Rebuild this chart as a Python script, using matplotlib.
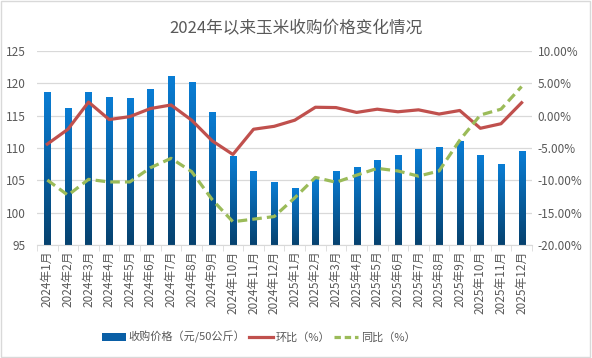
import matplotlib
matplotlib.use('Agg')
import numpy as np
import matplotlib.pyplot as plt
from matplotlib.colors import LinearSegmentedColormap
from matplotlib.lines import Line2D
from matplotlib.patches import Rectangle

plt.rcParams['font.family'] = ['Noto Sans CJK SC', 'DejaVu Sans']

months = ['2024年%d月' % m for m in range(1, 13)] + ['2025年%d月' % m for m in range(1, 13)]
price = [118.7, 116.2, 118.7, 117.9, 117.7, 119.1, 121.1, 120.2, 115.6, 108.8, 106.4, 104.7,
         103.8, 105.2, 106.4, 107.1, 108.1, 108.9, 109.8, 110.2, 111.1, 108.9, 107.5, 109.5]
mom = [-4.4, -2.1, 2.1, -0.6, -0.15, 1.1, 1.65, -0.7, -3.9, -6.0, -2.1, -1.65,
       -0.7, 1.3, 1.25, 0.5, 1.0, 0.6, 0.9, 0.25, 0.8, -1.95, -1.25, 2.0]
yoy = [-9.95, -12.3, -9.85, -10.25, -10.25, -8.05, -6.6, -8.65, -13.0, -16.4, -16.0, -15.6,
       -12.7, -9.55, -10.3, -9.2, -8.15, -8.55, -9.35, -8.55, -3.8, 0.1, 1.0, 4.5]

grey = '#595959'
fig = plt.figure(figsize=(5.92, 3.58), dpi=100)
fig.patches.append(Rectangle((0.002, 0.003), 0.995, 0.993, transform=fig.transFigure,
                             fill=False, edgecolor='#D9D9D9', linewidth=1))
ax = fig.add_axes([0.0625, 0.3156, 0.836, 0.542])
ax2 = ax.twinx()

x = np.arange(len(months))
w = 0.3
cmap = LinearSegmentedColormap.from_list('bar', ['#06426F', '#0A7DD4'])
grad = np.linspace(0, 1, 100).reshape(-1, 1)
bars = ax.bar(x, np.array(price) - 95, w, bottom=95, color='#0070C0', zorder=2)
for b in bars:
    im = ax.imshow(grad, extent=[b.get_x(), b.get_x() + w, 95, 95 + b.get_height()],
                   origin='lower', aspect='auto', cmap=cmap, zorder=2.5)
    im.set_clip_path(b)

ax.set_xlim(-0.5, len(months) - 0.5)
ax.set_ylim(95, 125)
ax.set_yticks(range(95, 126, 5))
ax.grid(axis='y', color='#D9D9D9', linewidth=0.9, zorder=0)
ax.set_axisbelow(True)
for s in ['top', 'left', 'right']:
    ax.spines[s].set_visible(False)
    ax2.spines[s].set_visible(False)
ax2.spines['bottom'].set_visible(False)
ax.spines['bottom'].set_color('#D9D9D9')
ax.set_xticks(x)
ax.set_xticklabels(months, rotation=90, fontsize=8.5, color=grey)
ax.tick_params(axis='x', length=0, pad=4)
ax.set_xticks(np.arange(-0.5, len(months), 1), minor=True)
ax.tick_params(axis='x', which='minor', length=4, color='#D9D9D9')
ax.tick_params(axis='y', length=0, labelsize=8.5, labelcolor=grey, pad=8)

ax2.plot(x, mom, color='#C0504D', linewidth=2.3, zorder=3)
ax2.plot(x, yoy, color='#9BBB59', linewidth=2.3, linestyle=(0, (3, 1.6)), zorder=3)
ax2.set_ylim(-20, 10)
ax2.set_yticks(range(-20, 11, 5))
ax2.set_yticklabels(['%.2f%%' % v for v in range(-20, 11, 5)])
ax2.tick_params(axis='y', length=0, labelsize=8.5, labelcolor=grey, pad=4)

fig.text(0.5, 0.92, '2024年以来玉米收购价格变化情况', ha='center', va='center',
         fontsize=12, color=grey)

handles = [Rectangle((0, 0), 1, 1, facecolor='#0A5FA6'),
           Line2D([], [], color='#C0504D', linewidth=2.3),
           Line2D([], [], color='#9BBB59', linewidth=2.3, linestyle=(0, (2, 1.2)))]
labels = ['收购价格（元/50公斤）', '环比（%）', '同比（%）']
fig.legend(handles, labels, loc='center', bbox_to_anchor=(0.437, 0.058), ncol=3, frameon=False,
           fontsize=8, labelcolor=grey, handlelength=2.2, columnspacing=0.3, handletextpad=0.25)

fig.savefig('out.png', dpi=100)
